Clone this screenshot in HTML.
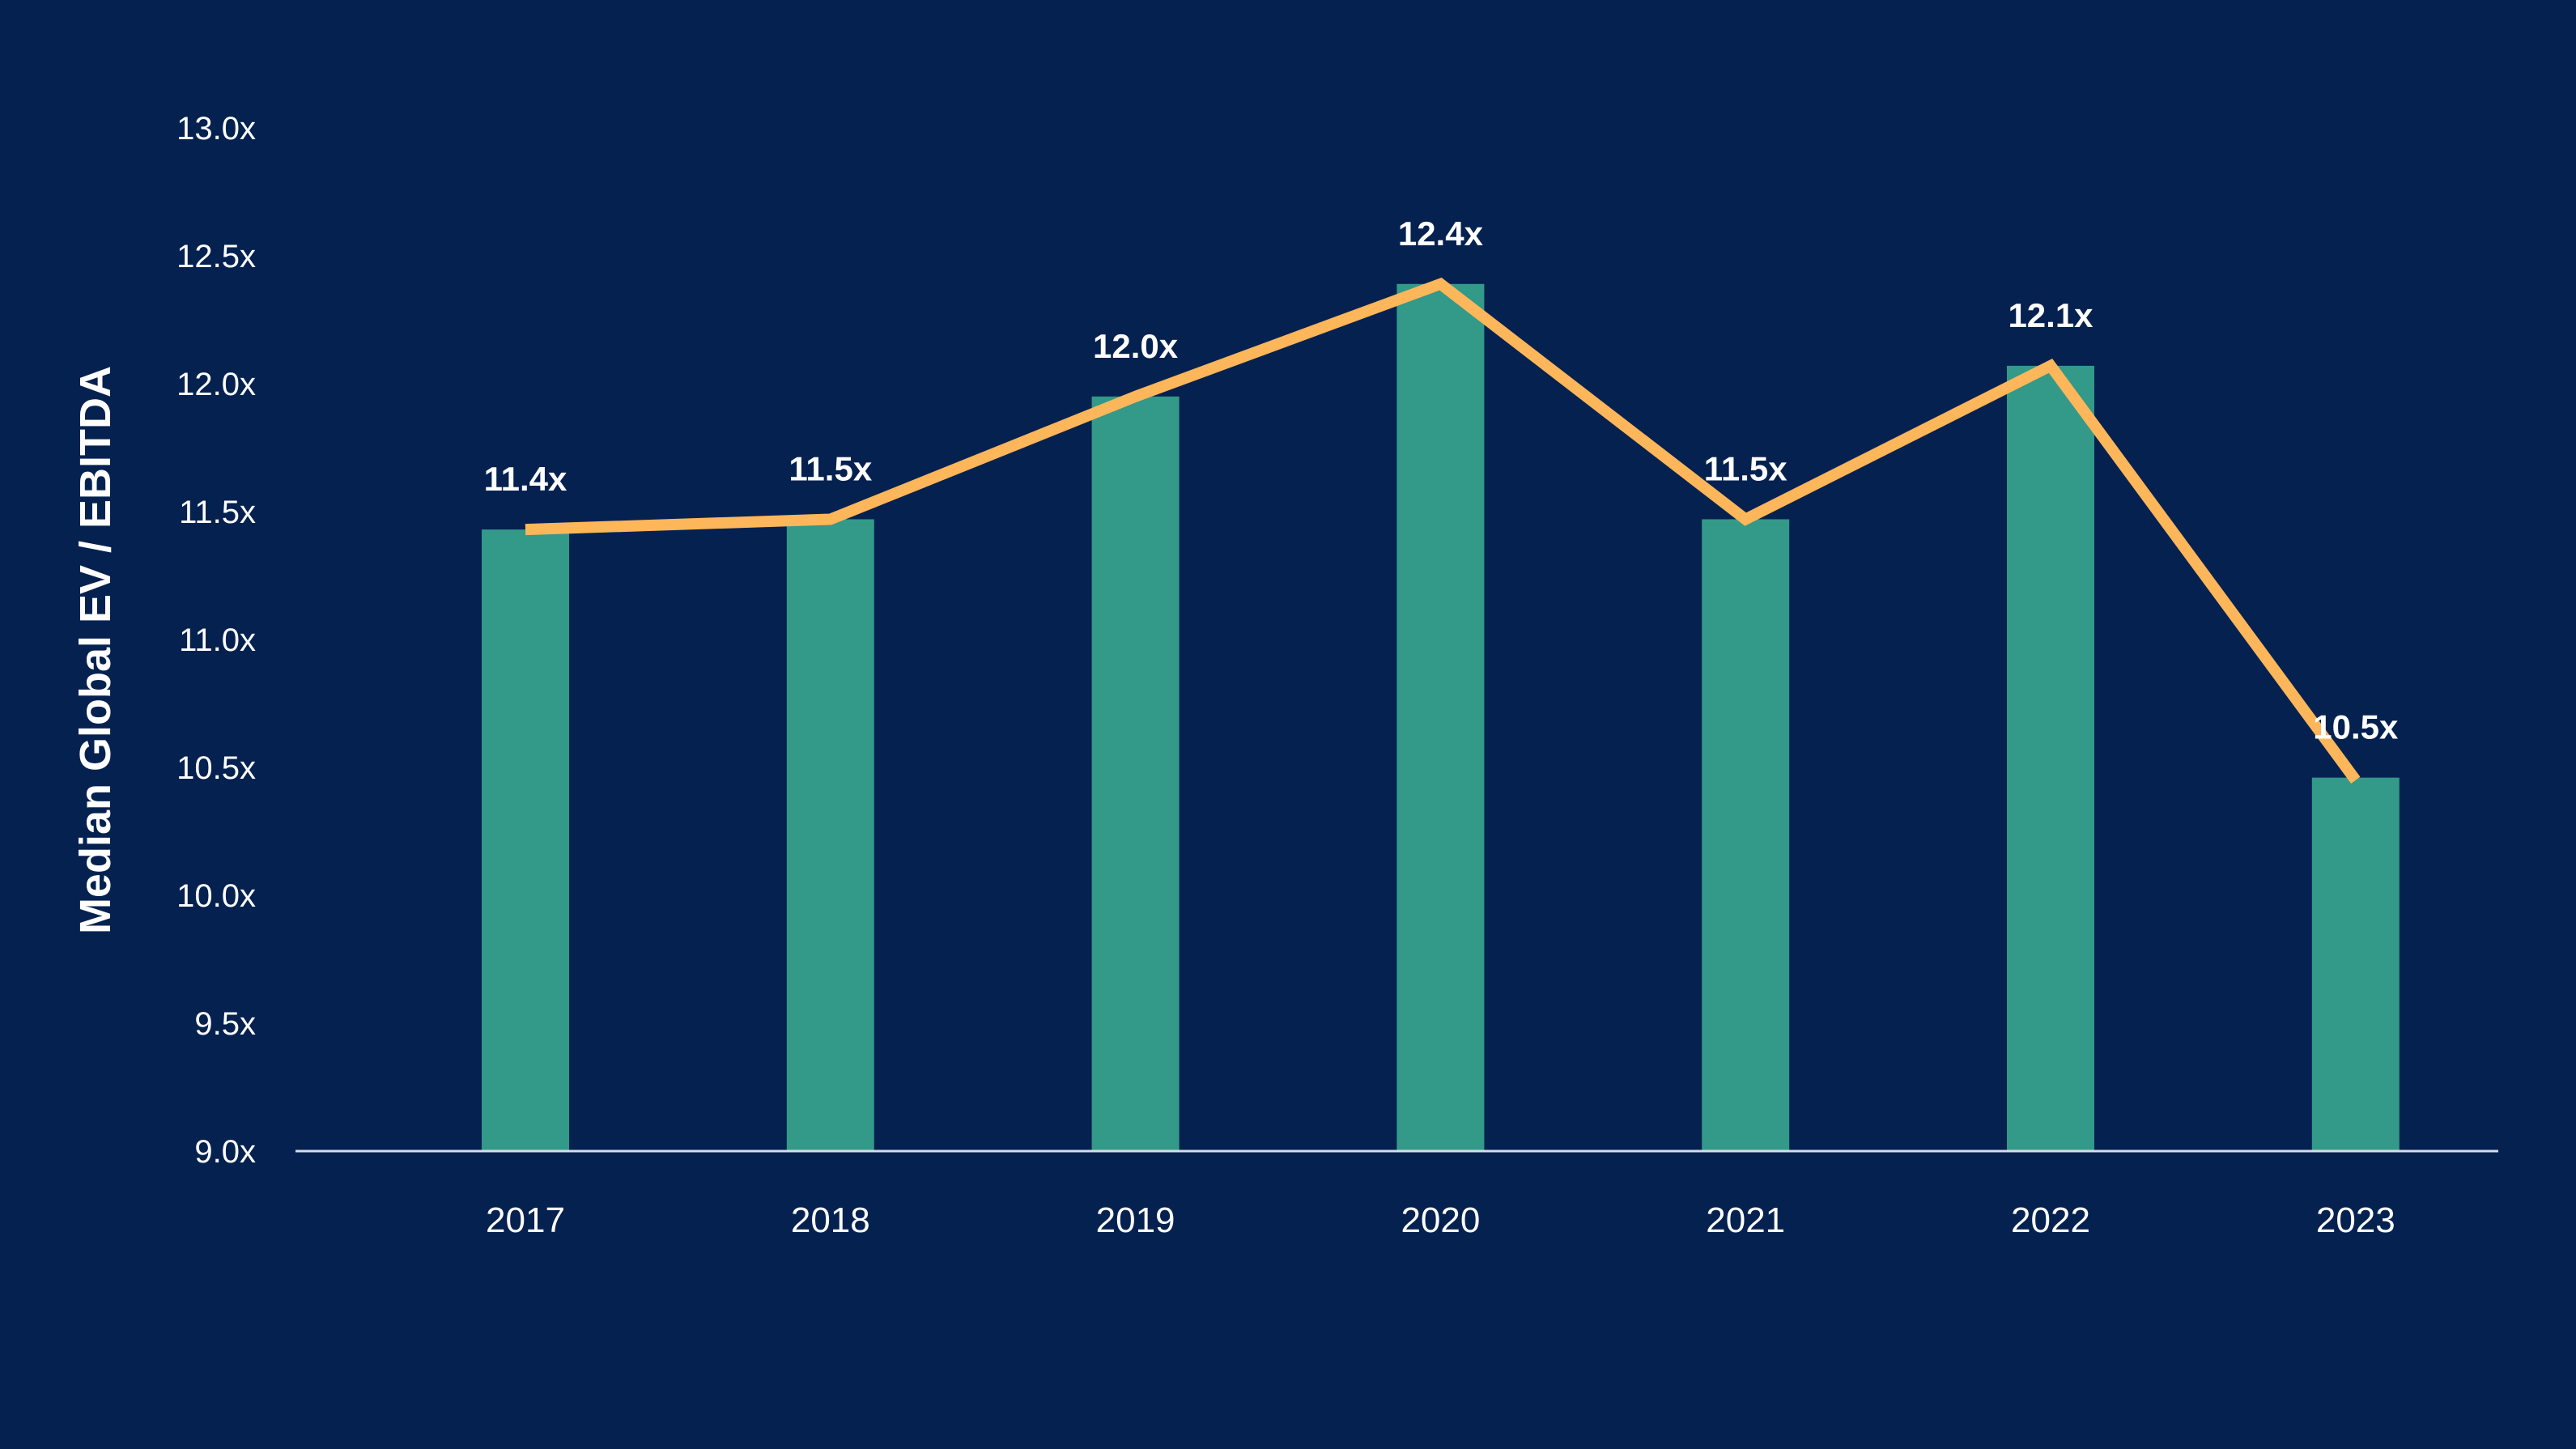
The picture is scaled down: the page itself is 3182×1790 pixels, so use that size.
<!DOCTYPE html>
<html><head><meta charset="utf-8"><style>
html,body{margin:0;padding:0;background:#052150;}
svg{display:block;}
text{font-family:"Liberation Sans",sans-serif;fill:#fff;}
</style></head><body>
<svg id="chart" width="3182" height="1790" viewBox="0 0 3182 1790" xmlns="http://www.w3.org/2000/svg">
<rect width="3182" height="1790" fill="#052150"/>
<text transform="translate(136,803) rotate(-90)" text-anchor="middle" font-size="54" font-weight="bold">Median Global EV / EBITDA</text>
<g id="yticks"></g><g id="bars"></g><g id="xlabels"></g><g id="line"></g><g id="vlabels"></g>
</svg>
<script>
const categories = ["2017","2018","2019","2020","2021","2022","2023"];
const barValues = [11.43, 11.47, 11.95, 12.39, 11.47, 12.07, 10.46];
const lineValues = [11.43, 11.47, 11.95, 12.39, 11.47, 12.07, 10.45];
const valueLabels = ["11.4x","11.5x","12.0x","12.4x","11.5x","12.1x","10.5x"];
const yTicks = [9.0, 9.5, 10.0, 10.5, 11.0, 11.5, 12.0, 12.5, 13.0];

const NS = "http://www.w3.org/2000/svg";
const yMin = 9, yMax = 13, yTop = 158, yBot = 1422;
const xStart = 649, xStep = 376.8;
function y(v){ return yBot - (v - yMin) / (yMax - yMin) * (yBot - yTop); }
function x(i){ return xStart + i * xStep; }
function mk(tag, attrs, parent){ const e = document.createElementNS(NS, tag); for (const k in attrs) e.setAttribute(k, attrs[k]); document.getElementById(parent).appendChild(e); return e; }

yTicks.forEach(t => {
  const e = mk("text", {x: 316, y: y(t) + 14, "text-anchor": "end", "font-size": "40"}, "yticks");
  
  
  e.textContent = t.toFixed(1) + "x";
});
const bw = 108;
barValues.forEach((v, i) => {
  const r = mk("rect", {x: x(i) - bw/2, y: y(v), width: bw, height: yBot - y(v), fill: "#339988"}, "bars");
  
  
});
const ax = mk("line", {x1: 365, x2: 3086, y1: yBot, y2: yBot, stroke: "#d8dde6", "stroke-width": 3}, "bars");


categories.forEach((c, i) => {
  const e = mk("text", {x: x(i), y: 1522, "text-anchor": "middle", "font-size": "44"}, "xlabels");
  
  
  e.textContent = c;
});
const pts = lineValues.map((v, i) => x(i) + "," + y(v)).join(" ");
const pl = mk("polyline", {points: pts, fill: "none", stroke: "#FDB65A", "stroke-width": 14, "stroke-linejoin": "miter"}, "line");


valueLabels.forEach((l, i) => {
  const e = mk("text", {x: x(i), y: y(barValues[i]) - 48, "text-anchor": "middle", "font-size": "42", "font-weight": "bold"}, "vlabels");
  
  
  e.textContent = l;
});
</script>
</body></html>
